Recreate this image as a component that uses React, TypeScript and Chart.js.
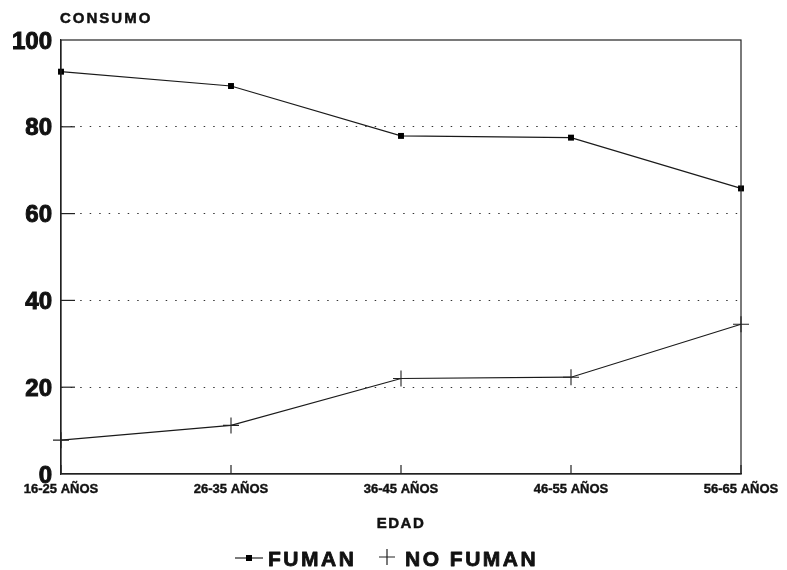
import React, { useEffect, useRef } from 'react';
import { Chart, registerables } from 'chart.js';

Chart.register(...registerables);

const categories = ['16-25 AÑOS', '26-35 AÑOS', '36-45 AÑOS', '46-55 AÑOS', '56-65 AÑOS'];
const fumanValues = [92.7, 89.4, 77.9, 77.5, 65.8];
const noFumanValues = [7.8, 11.2, 22.0, 22.3, 34.5];
const yTickValues = [0, 20, 40, 60, 80, 100];
const yTitle = 'CONSUMO';
const xTitle = 'EDAD';
const seriesNames = ['FUMAN', 'NO FUMAN'];

const FONT = '"Liberation Sans", Arial, Helvetica, sans-serif';
const INK = '#111';

function heavyText(ctx: CanvasRenderingContext2D, text: string, x: number, y: number, w: number) {
  ctx.lineWidth = w;
  ctx.strokeStyle = INK;
  ctx.lineJoin = 'round';
  ctx.strokeText(text, x, y);
  ctx.fillText(text, x, y);
}

const decorPlugin = {
  id: 'decor',
  afterDraw(chart: any) {
    const { ctx, chartArea } = chart;
    const { left, right, top, bottom } = chartArea;
    const xs = chart.scales.x;
    const ys = chart.scales.y;
    ctx.save();
    ctx.strokeStyle = '#222';
    ctx.lineWidth = 1.2;
    ctx.setLineDash([]);
    // frame
    ctx.strokeRect(left, top, right - left, bottom - top);
    // x tick marks (inward)
    categories.forEach((_, i) => {
      const x = xs.getPixelForValue(i);
      ctx.beginPath();
      ctx.moveTo(x, bottom);
      ctx.lineTo(x, bottom - 9);
      ctx.stroke();
    });
    // y tick marks (inward)
    yTickValues.forEach((v) => {
      if (v === 0 || v === 100) return;
      const y = ys.getPixelForValue(v);
      ctx.beginPath();
      ctx.moveTo(left, y);
      ctx.lineTo(left + 14, y);
      ctx.stroke();
    });

    ctx.fillStyle = INK;
    ctx.textBaseline = 'alphabetic';
    // y title
    ctx.font = `bold 15px ${FONT}`;
    (ctx as any).letterSpacing = '2px';
    ctx.textAlign = 'left';
    heavyText(ctx, yTitle, left - 1, 23, 0.5);
    // x title
    ctx.font = `bold 15px ${FONT}`;
    (ctx as any).letterSpacing = '1.5px';
    ctx.textAlign = 'center';
    heavyText(ctx, xTitle, (left + right) / 2, 528, 0.5);

    // legend
    const ly = 558;
    ctx.strokeStyle = '#222';
    ctx.lineWidth = 1.2;
    ctx.beginPath();
    ctx.moveTo(235, ly);
    ctx.lineTo(263, ly);
    ctx.stroke();
    ctx.fillStyle = '#000';
    ctx.fillRect(246, ly - 3, 6, 6);
    ctx.beginPath();
    ctx.moveTo(379, ly - 1);
    ctx.lineTo(395, ly - 1);
    ctx.moveTo(387, ly - 9);
    ctx.lineTo(387, ly + 7);
    ctx.stroke();

    ctx.font = `bold 21px ${FONT}`;
    (ctx as any).letterSpacing = '2.5px';
    ctx.textAlign = 'left';
    ctx.fillStyle = INK;
    heavyText(ctx, seriesNames[0], 268, 566, 0.8);
    heavyText(ctx, seriesNames[1], 405, 566, 0.8);
    (ctx as any).letterSpacing = '0px';
    ctx.restore();
  },
};

export default function App() {
  const ref = useRef<HTMLCanvasElement | null>(null);

  useEffect(() => {
    if (!ref.current) return;
    const chart = new Chart(ref.current, {
      type: 'line',
      data: {
        labels: categories,
        datasets: [
          {
            label: seriesNames[0],
            data: fumanValues,
            borderColor: '#1a1a1a',
            backgroundColor: '#000',
            borderWidth: 1.2,
            pointStyle: 'rect',
            pointRadius: 4.2,
            pointBorderWidth: 0,
            pointBackgroundColor: '#000',
            tension: 0,
            clip: false,
          },
          {
            label: seriesNames[1],
            data: noFumanValues,
            borderColor: '#1a1a1a',
            backgroundColor: '#000',
            borderWidth: 1.2,
            pointStyle: 'cross',
            pointRadius: 8,
            pointBorderWidth: 1.1,
            pointBorderColor: '#222',
            tension: 0,
            clip: false,
          },
        ],
      },
      options: {
        animation: false,
        responsive: true,
        maintainAspectRatio: false,
        layout: { padding: { top: 40, right: 46, bottom: 0, left: 0 } },
        plugins: {
          legend: { display: false },
          tooltip: { enabled: false },
          title: { display: false },
        },
        scales: {
          x: {
            type: 'category',
            offset: false,
            grid: { display: false, drawTicks: false },
            border: { display: true, color: '#222', width: 1.2 },
            ticks: {
              color: INK,
              font: { family: FONT, size: 13, weight: 'bold' },
              textStrokeColor: INK,
              textStrokeWidth: 0.4,
              padding: 8,
              autoSkip: false,
              maxRotation: 0,
              minRotation: 0,
            },
            afterFit: (scale: any) => {
              scale.height = 96;
            },
          },
          y: {
            type: 'linear',
            min: 0,
            max: 100,
            afterBuildTicks: (scale: any) => {
              scale.ticks = yTickValues.map((v) => ({ value: v }));
            },
            grid: {
              drawTicks: false,
              color: (c: any) =>
                c.tick && (c.tick.value === 0 || c.tick.value === 100) ? 'rgba(0,0,0,0)' : '#333',
              lineWidth: 1,
            },
            border: { display: true, color: '#222', width: 1.2, dash: [1.5, 8] },
            ticks: {
              color: INK,
              font: { family: FONT, size: 24, weight: 'bold' },
              textStrokeColor: INK,
              textStrokeWidth: 1,
              padding: 9,
              labelOffset: 2,
            },
            afterFit: (scale: any) => {
              scale.width = 61;
            },
          },
        },
      },
      plugins: [decorPlugin],
    });
    return () => chart.destroy();
  }, []);

  return (
    <div style={{ position: 'fixed', left: 0, top: 0, width: 787, height: 570, background: '#fff' }}>
      <canvas ref={ref} />
    </div>
  );
}
